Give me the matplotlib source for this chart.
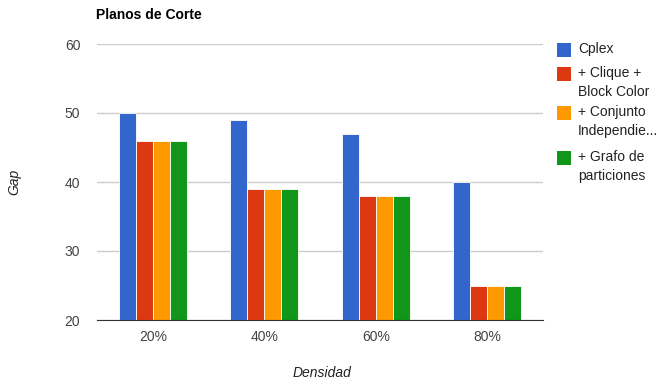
import numpy as np
import matplotlib.pyplot as plt
from matplotlib.patches import Rectangle

plt.rcParams['font.family'] = ['Liberation Sans', 'DejaVu Sans']

categories = ['20%', '40%', '60%', '80%']
series_names = ['Cplex', '+ Clique +\nBlock Color', '+ Conjunto\nIndependie...', '+ Grafo de\nparticiones']
cplex = [50, 49, 47, 40]
clique = [46, 39, 38, 25]
conjunto = [46, 39, 38, 25]
grafo = [46, 39, 38, 25]
colors = ['#3366cc', '#dc3912', '#ff9900', '#109618']

series = [cplex, clique, conjunto, grafo]

W, H = 664, 379
fig = plt.figure(figsize=(W / 100, H / 100), dpi=100)
ax = fig.add_axes([97 / W, 1 - 320 / H, 446 / W, 276 / H])

x = np.arange(len(categories))
w = 0.152
for i, vals in enumerate(series):
    ax.bar(x + (i - 1.5) * w, np.array(vals) - 20, w, bottom=20,
           color=colors[i], edgecolor='white', linewidth=0.6, zorder=3)

ax.set_xlim(-0.5, 3.5)
ax.set_ylim(20, 60)
ax.set_yticks([20, 30, 40, 50, 60])
ax.set_xticks(x)
ax.set_xticklabels(categories)
ax.tick_params(length=0, labelsize=10, colors='#444444')
ax.tick_params(axis='x', pad=7)
ax.tick_params(axis='y', pad=12)
ax.grid(axis='y', color='#cccccc', linewidth=1, zorder=0)
for s in ['top', 'right', 'left']:
    ax.spines[s].set_visible(False)
ax.spines['bottom'].set_color('#333333')
ax.spines['bottom'].set_zorder(4)

fig.text(96 / W, 1 - 15 / H, 'Planos de Corte', fontsize=10, fontweight='bold',
         ha='left', va='center', color='#000000')
fig.text(14 / W, 1 - 182 / H, 'Gap', fontsize=10, style='italic', rotation=90,
         ha='center', va='center', color='#222222')
fig.text(322 / W, 1 - 373 / H, 'Densidad', fontsize=10, style='italic',
         ha='center', va='center', color='#222222')

# legend drawn by hand, Google Charts style
legend_y = [50, 74, 113, 158]
for name, c, yy in zip(series_names, colors, legend_y):
    fig.patches.append(Rectangle((557 / W, 1 - (yy + 7) / H), 14 / W, 14 / H,
                                 transform=fig.transFigure, facecolor=c,
                                 edgecolor='none'))
    fig.text(578 / W, 1 - (yy - 8) / H, name, fontsize=10, color='#222222',
             ha='left', va='top', linespacing=1.45)

fig.savefig('out.png', dpi=100)
